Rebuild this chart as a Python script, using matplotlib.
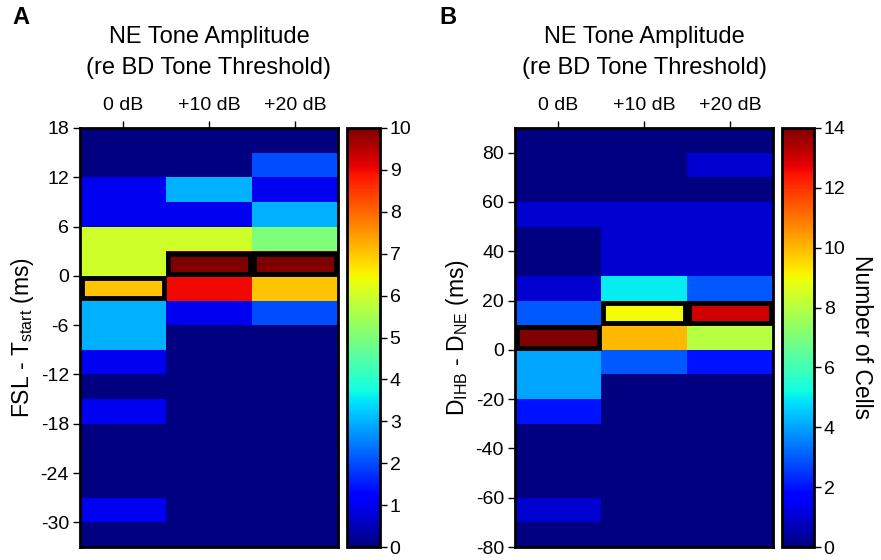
import numpy as np
import matplotlib.pyplot as plt
from matplotlib.patches import Rectangle

plt.rcParams['font.family'] = ['Liberation Sans', 'DejaVu Sans']
plt.rcParams['axes.unicode_minus'] = False

levels = ['0 dB', '+10 dB', '+20 dB']

# panel A: FSL - Tstart, 3 ms bins, rows listed from top (18) to bottom (-33)
edges_a = np.arange(18, -34, -3)
counts_a = np.array([
    [0, 0, 0],
    [0, 0, 2],
    [1, 3, 1],
    [1, 1, 3],
    [6, 6, 5],
    [6, 10, 10],
    [7, 9, 7],
    [3, 1, 2],
    [3, 0, 0],
    [1, 0, 0],
    [0, 0, 0],
    [1, 0, 0],
    [0, 0, 0],
    [0, 0, 0],
    [0, 0, 0],
    [1, 0, 0],
    [0, 0, 0],
])
# row index of the highlighted (peak) bin for each level
peaks_a = [6, 5, 5]

# panel B: DIHB - DNE, 10 ms bins, rows from top (90) to bottom (-80)
edges_b = np.arange(90, -81, -10)
counts_b = np.array([
    [0, 0, 0],
    [0, 0, 1],
    [0, 0, 0],
    [1, 1, 1],
    [0, 1, 1],
    [0, 1, 1],
    [1, 5, 3],
    [3, 9, 13],
    [14, 10, 8],
    [4, 3, 2],
    [4, 0, 0],
    [2, 0, 0],
    [0, 0, 0],
    [0, 0, 0],
    [0, 0, 0],
    [1, 0, 0],
    [0, 0, 0],
])
peaks_b = [8, 7, 7]

fig = plt.figure(figsize=(8.81, 5.60), dpi=100)
W, H = 881, 560


def box(l, t, r, b):
    return [l / W, 1 - b / H, (r - l) / W, (b - t) / H]


def panel(ax_box, cb_box, edges, counts, peaks, vmax, yticks, ylabel, cbticks, letter, lx, cblabel=None):
    ax = fig.add_axes(box(*ax_box))
    cax = fig.add_axes(box(*cb_box))
    xe = np.arange(4)
    mesh = ax.pcolormesh(xe, edges[::-1], counts[::-1], cmap='jet', vmin=0, vmax=vmax)

    # outline drawn just inside the cell
    px_w = ax_box[2] - ax_box[0]
    px_h = ax_box[3] - ax_box[1]
    dx = 2.3 * 3 / px_w
    dy = 2.3 * (edges[0] - edges[-1]) / px_h
    for col, row in enumerate(peaks):
        top = edges[row]
        bot = edges[row + 1]
        ax.add_patch(Rectangle((col + dx, bot + dy), 1 - 2 * dx, top - bot - 2 * dy,
                               fill=False, ec='black', lw=3.5, zorder=5))
    ax.set_xlim(0, 3)
    ax.set_ylim(edges[-1], edges[0])
    ax.xaxis.tick_top()
    ax.set_xticks([0.5, 1.5, 2.5])
    ax.set_xticklabels(levels)
    ax.set_yticks(yticks)
    ax.tick_params(axis='both', labelsize=14, direction='out', length=5, width=1, pad=3)
    ax.tick_params(axis='x', pad=5)
    for s in ax.spines.values():
        s.set_linewidth(2)
    ax.set_ylabel(ylabel, fontsize=16.5, labelpad=3)

    cx = (ax_box[0] + ax_box[2]) / 2 / W
    fig.text(cx, 1 - 37 / H, 'NE Tone Amplitude', fontsize=17, ha='center', va='center')
    fig.text(cx, 1 - 68 / H, '(re BD Tone Threshold)', fontsize=17, ha='center', va='center')

    cb = fig.colorbar(mesh, cax=cax, ticks=cbticks)
    cb.outline.set_linewidth(2)
    cax.tick_params(labelsize=14, length=5, width=1, pad=2)
    if cblabel:
        cb.set_label(cblabel, fontsize=16.5, rotation=270, labelpad=20)
    fig.text(lx / W, 1 - 18 / H, letter, fontsize=17, fontweight='bold', va='center', ha='center')
    return ax


panel((80, 128, 338, 547), (347, 128, 380, 547), edges_a, counts_a, peaks_a, 10,
      np.arange(18, -31, -6), 'FSL - T$_{\\mathregular{start}}$ (ms)', np.arange(0, 11), 'A', 21)
panel((515, 128, 773, 547), (782, 128, 814, 547), edges_b, counts_b, peaks_b, 14,
      np.arange(80, -81, -20), 'D$_{\\mathregular{IHB}}$ - D$_{\\mathregular{NE}}$ (ms)', np.arange(0, 15, 2), 'B', 448,
      cblabel='Number of Cells')

fig.savefig('out.png', dpi=100)
